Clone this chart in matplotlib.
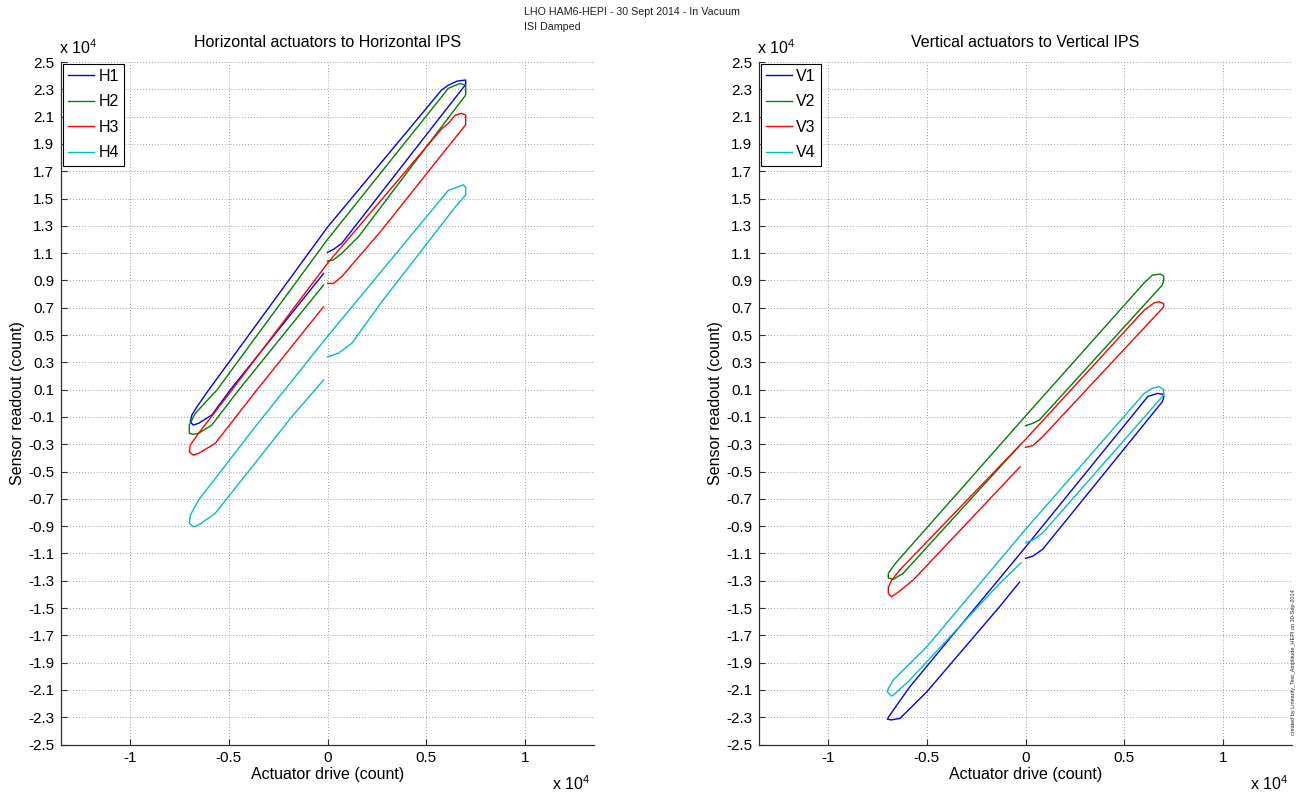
import numpy as np
import matplotlib
matplotlib.use('Agg')
import matplotlib.pyplot as plt
from matplotlib.ticker import FuncFormatter
from matplotlib.transforms import offset_copy

# ---- data (counts) ----
H1_x = [0, 300, 720, 5780, 7000, 7000, 6560, 6120, 5780, 0, -6020, -6610,
        -6870, -6950, -6800, -6530, -5860, -4930, -200]
H1_y = [11060, 11270, 11710, 21100, 23350, 23680, 23600, 23300, 22950, 12900,
        970, -250, -860, -1350, -1600, -1470, -860, 970, 9500]

H2_x = [0, 300, 720, 1570, 5780, 7000, 7000, 6710, 6120, 5780, 0, -5600,
        -6700, -7000, -7000, -6800, -6530, -5860, -4500, -200]
H2_y = [10420, 10500, 10980, 12200, 20260, 22580, 23300, 23430, 23070, 22450,
        12000, 970, -740, -1600, -2200, -2280, -2200, -1600, 970, 8660]

H3_x = [0, 300, 720, 2750, 5780, 7000, 7000, 6800, 6460, 6120, 5780, 0,
        -4840, -6530, -6950, -7000, -6800, -6530, -5690, -3580, -200]
H3_y = [8780, 8780, 9270, 12690, 18200, 20400, 21100, 21240, 21100, 20500,
        20100, 10250, 970, -2200, -3060, -3550, -3800, -3670, -2940, 970, 7070]

H4_x = [0, 550, 1230, 2750, 6540, 7000, 7000, 6880, 6120, 5780, 0, -3660,
        -6530, -6950, -7000, -6800, -6530, -5690, -1810, -200]
H4_y = [3400, 3660, 4390, 7440, 14500, 15250, 15800, 16000, 15600, 15000,
        4900, -1720, -7090, -8200, -8800, -9050, -8920, -8070, -990, 1700]

V1_x = [0, 370, 870, 6930, 7000, 7000, 6680, 6200, 0, -1310, -5860, -6870,
        -7000, -6800, -6360, -5000, -1310, -300]
V1_y = [-11360, -11200, -10700, 110, 400, 650, 720, 500, -10540, -12830,
        -20770, -22840, -23140, -23200, -23090, -21140, -14900, -13100]

V2_x = [0, 370, 700, 6930, 7000, 7000, 6850, 6430, 6000, 0, -6600, -6950,
        -6950, -6700, -6200, -300]
V2_y = [-1650, -1470, -1230, 8660, 9000, 9300, 9460, 9390, 8800, -940,
        -11750, -12460, -12800, -12900, -12460, -3100]

V3_x = [0, 370, 870, 6930, 7000, 7000, 6770, 6520, 6000, 0, -6360, -6800,
        -6950, -6950, -6800, -6530, -5690, -270]
V3_y = [-3230, -3100, -2450, 6950, 7100, 7300, 7440, 7360, 6800, -2650,
        -12200, -13000, -13500, -13930, -14170, -13930, -12950, -4650]

V4_x = [0, 400, 870, 7000, 7000, 6770, 6430, 6000, 0, -1310, -5000, -6700,
        -6950, -7000, -6800, -6700, -5860, -1310, -220]
V4_y = [-10220, -10000, -9500, 600, 1000, 1210, 1100, 700, -9240, -11490,
        -17840, -20280, -20900, -21140, -21450, -21380, -20280, -13200, -11680]

xticks = [-10000, -5000, 0, 5000, 10000]
yticks = np.arange(-25000, 25001, 2000)

colors = ['#0000ff', '#008000', '#ff0000', '#00bfbf']

plt.rcParams['font.family'] = ['Liberation Sans', 'DejaVu Sans']
plt.rcParams['mathtext.default'] = 'regular'

W, H = 1301, 793
fig = plt.figure(figsize=(W / 100, H / 100), dpi=100)

fmt = FuncFormatter(lambda v, p: '%g' % (v / 1e4))


def make_panel(left_px, title, names, xs, ys):
    ax = fig.add_axes([left_px / W, 48.5 / H, 533 / W, 682.5 / H])
    for n, x, y, c in zip(names, xs, ys, colors):
        ax.plot(x, y, color=c, lw=1.0, label=n)
    ax.set_xlim(-13500, 13500)
    ax.set_ylim(-25000, 25000)
    ax.set_xticks(xticks)
    ax.set_yticks(yticks)
    ax.xaxis.set_major_formatter(fmt)
    ax.yaxis.set_major_formatter(fmt)
    ax.tick_params(direction='in', length=4, width=0.8, labelsize=11,
                   color='#303030', pad=5)
    ax.grid(True, color='0.5', linestyle=(0, (1, 2.5)), lw=0.6)
    ax.spines['top'].set_visible(False)
    ax.spines['right'].set_visible(False)
    for s in ('left', 'bottom'):
        ax.spines[s].set_color('#303030')
        ax.spines[s].set_linewidth(0.9)
    ax.set_title(title, fontsize=11.5, pad=11)
    ax.set_xlabel('Actuator drive (count)', fontsize=11.5, labelpad=1)
    ax.set_ylabel('Sensor readout (count)', fontsize=11.5, labelpad=2)
    leg = ax.legend(loc='upper left', fontsize=11.5, fancybox=False,
                    edgecolor='black', framealpha=1, borderpad=0.34,
                    labelspacing=0.65, handlelength=1.6, handletextpad=0.3,
                    borderaxespad=0.1)
    leg.get_frame().set_linewidth(0.8)
    # exponent labels, MATLAB style
    ax.text(0, 1, 'x 10$^{4}$',
            transform=offset_copy(ax.transAxes, fig=fig, x=-2, y=5, units='dots'),
            ha='left', va='bottom', fontsize=11.5)
    ax.text(1, 0, 'x 10$^{4}$',
            transform=offset_copy(ax.transAxes, fig=fig, x=-4, y=-46, units='dots'),
            ha='right', va='baseline', fontsize=11.5)
    return ax


make_panel(61, 'Horizontal actuators to Horizontal IPS',
           ['H1', 'H2', 'H3', 'H4'], [H1_x, H2_x, H3_x, H4_x],
           [H1_y, H2_y, H3_y, H4_y])
make_panel(759, 'Vertical actuators to Vertical IPS',
           ['V1', 'V2', 'V3', 'V4'], [V1_x, V2_x, V3_x, V4_x],
           [V1_y, V2_y, V3_y, V4_y])

fig.text(524 / W, 1 - 12 / H, 'LHO HAM6-HEPI - 30 Sept 2014 - In Vacuum',
         ha='left', va='center', fontsize=7.7, color='#222222')
fig.text(524 / W, 1 - 27 / H, 'ISI Damped',
         ha='left', va='center', fontsize=7.7, color='#222222')
fig.text(1294 / W, 1 - 662 / H,
         'created by Linearity_Test_Amplitude_HEPI on 30-Sep-2014',
         rotation=90, ha='center', va='center', fontsize=4, color='#222222')

fig.savefig('out.png', dpi=100)
